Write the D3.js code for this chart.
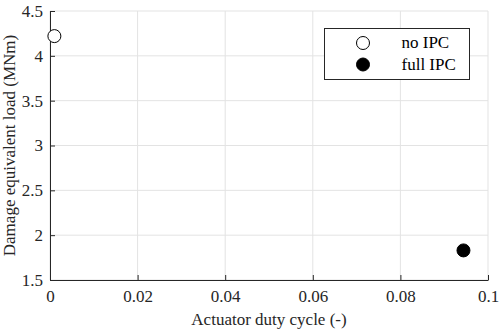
<!DOCTYPE html>
<html><head><meta charset="utf-8">
<script src="https://cdn.jsdelivr.net/npm/d3@7"></script>
<style>body{margin:0;background:#fff}</style></head>
<body><svg id="c" width="500" height="334"></svg>
<script>
const seriesNames = ["no IPC", "full IPC"];
const dutyCycle = [0.001, 0.0944];
const delValues = [4.22, 1.83];
const xTicks = [0, 0.02, 0.04, 0.06, 0.08, 0.1];
const yTicks = [1.5, 2, 2.5, 3, 3.5, 4, 4.5];
const xTickLabels = ["0", "0.02", "0.04", "0.06", "0.08", "0.1"];
const yTickLabels = ["1.5", "2", "2.5", "3", "3.5", "4", "4.5"];

const svg = d3.select("#c");
const FONT = "Liberation Serif";
const m = {l: 50, r: 12, t: 11, b: 54};
const W = 500, H = 334;
const x = d3.scaleLinear().domain([0, 0.1]).range([m.l, W - m.r]);
const y = d3.scaleLinear().domain([1.5, 4.5]).range([H - m.b, m.t]);

// grid
svg.append("g").selectAll("line").data(xTicks).join("line")
  .attr("x1", d => x(d)).attr("x2", d => x(d)).attr("y1", y(1.5)).attr("y2", y(4.5))
  .attr("stroke", "#e3e3e3").attr("stroke-width", 1);
svg.append("g").selectAll("line").data(yTicks).join("line")
  .attr("y1", d => y(d)).attr("y2", d => y(d)).attr("x1", x(0)).attr("x2", x(0.1))
  .attr("stroke", "#e3e3e3").attr("stroke-width", 1);

const xAxis = d3.axisBottom(x).tickValues(xTicks).tickSizeInner(-5).tickSizeOuter(0)
  .tickPadding(10).tickFormat((d, i) => xTickLabels[i]);
const yAxis = d3.axisLeft(y).tickValues(yTicks).tickSizeInner(-5).tickSizeOuter(0)
  .tickPadding(7).tickFormat((d, i) => yTickLabels[i]);

const gx = svg.append("g").attr("transform", `translate(0,${y(1.5)})`).call(xAxis);
const gy = svg.append("g").attr("transform", `translate(${x(0)},0)`).call(yAxis);
[gx, gy].forEach(g => {
  g.select(".domain").attr("stroke", "#262626").attr("stroke-width", 1);
  g.selectAll(".tick line").attr("stroke", "#262626");
  g.selectAll("text").style("font-family", FONT).attr("font-size", 17).attr("fill", "#262626");
});
gx.selectAll("text").attr("dy", "0.71em");
gy.selectAll("text").attr("dy", "0.32em");

// axis labels
svg.append("text").attr("x", x(0.05)).attr("y", 325).attr("text-anchor", "middle")
  .style("font-family", FONT).attr("font-size", 17).attr("fill", "#262626")
  .text("Actuator duty cycle (-)");
svg.append("text").attr("transform", `translate(15,${(y(1.5)+y(4.5))/2}) rotate(-90)`)
  .attr("text-anchor", "middle").style("font-family", FONT).attr("font-size", 17).attr("fill", "#262626")
  .text("Damage equivalent load (MNm)");

// points
svg.append("g").selectAll("circle").data(dutyCycle).join("circle")
  .attr("cx", d => x(d)).attr("cy", (d, i) => y(delValues[i])).attr("r", 6.5)
  .attr("fill", (d, i) => i === 0 ? "#fff" : "#000")
  .attr("stroke", "#000").attr("stroke-width", 1);

// legend
const lg = svg.append("g");
lg.append("rect").attr("x", 324.5).attr("y", 28.5).attr("width", 145).attr("height", 51)
  .attr("fill", "#fff").attr("stroke", "#262626").attr("stroke-width", 1);
seriesNames.forEach((n, i) => {
  const cy = 43 + i * 21.5;
  lg.append("circle").attr("cx", 363).attr("cy", cy).attr("r", 6.5)
    .attr("fill", i === 0 ? "#fff" : "#000").attr("stroke", "#000");
  lg.append("text").attr("x", 401.5).attr("y", cy).attr("dy", "0.32em")
    .style("font-family", FONT).attr("font-size", 17).attr("fill", "#000").text(n);
});
</script></body></html>
